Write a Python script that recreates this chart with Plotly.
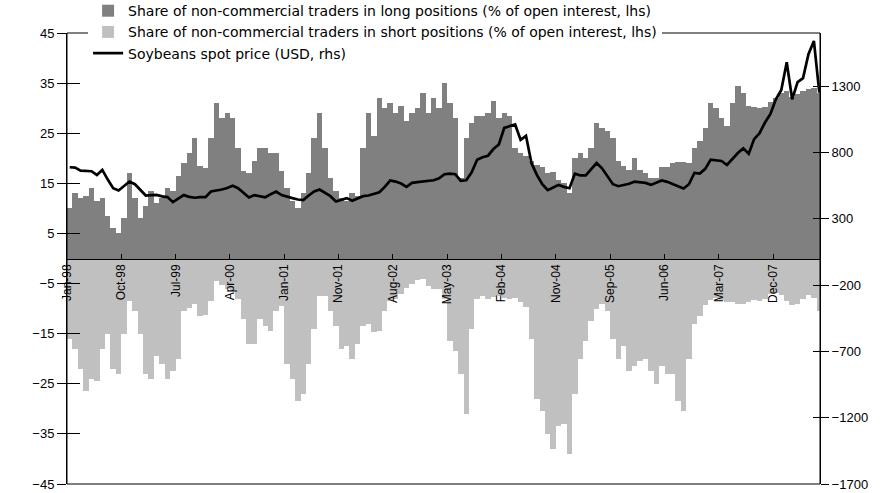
import plotly.graph_objects as go
import pandas as pd

# ---- Data (4-week periods starting 6 Jan 1998) ----
long_share = [
    10, 13, 12, 12.5, 14, 11.5, 12, 8.5, 6, 5,
    8, 17, 12, 8, 10.5, 13.5, 11, 12, 14, 13.5,
    16.5, 19, 21, 24, 18.5, 18, 24, 31, 28, 29,
    28, 22, 17.5, 17, 19.5,
    22, 22, 21, 21, 17.5,
    14, 11.5, 10, 13, 17, 24, 29, 22, 16, 13.5,
    12, 11.5, 13, 12.5, 22, 29, 24.5, 32, 30, 31,
    29, 30.5, 27.5, 29, 30, 33, 29, 32, 30,
    35,
    31, 28, 16, 24, 27, 28.5, 28.5, 29, 31.5, 28,
    29, 28.5, 22, 21, 20.5, 19.5, 18.6, 18.3, 17, 17.3,
    15.6, 15, 13, 20, 21, 20, 22, 27, 26, 25.5,
    24, 19.5, 18.5, 17.6, 20,
    17.6, 17, 16, 16, 18.3,
    18.3, 19, 19.3, 19.3, 19, 22, 23.5, 26, 31, 30,
    28, 26.5, 31, 34.5, 33, 30.5, 30.3, 30, 30.3, 31.3,
    32, 33, 33.5, 32.3, 32.8, 33.4, 33.8, 34, 33,
]

short_share = [
    -16, -18, -22, -26.5, -24, -24.5, -18, -15, -22, -23,
    -15, -8.5, -10.5, -15, -23, -24, -19.5, -21, -24, -22.5,
    -20, -10.5, -9.8, -9, -11.5, -11.2, -8.5, -4.5, -5.3, -6.1,
    -6.5, -8, -12, -17, -17, -12, -13.5, -14.5, -10.5, -9.5,
    -21, -24, -28.5, -27, -21, -14, -7.5, -7.5, -10.5, -13.5,
    -18, -17.5, -20, -17, -13.5, -13, -14.7, -14.5, -10.5, -8.5,
    -8, -7, -5.8, -5, -4.3, -4.1, -5.5, -6, -6.1,
    -8,
    -16.5, -18.5, -23, -31, -14, -8, -7.4, -8, -7.7, -7.5,
    -7.8, -8, -7.8, -8.7, -9.6, -16, -28, -30.5, -35, -38,
    -33.5, -33, -39, -27, -20, -16.5, -12.5, -10, -9.1, -10.5,
    -16, -20, -17.5, -22.5, -21.5, -20.5, -20, -22.5, -25, -21.5,
    -23, -23, -28.5, -30.5, -20, -13, -11.5, -9.2, -8.2, -7.8,
    -8.2, -8.7, -8.7, -9, -9, -8.6, -8.2, -8.5, -8, -7,
    -6.8, -7.3, -8.5, -9.2, -9, -8, -7.2, -7.8, -10.5,
]

price = [
    688, 685, 662, 660, 658, 630, 668, 595, 530, 513,
    545, 580, 560, 520, 475, 478, 480, 468, 463, 425,
    455, 478, 465, 458, 462, 462, 505, 512, 520, 532,
    548, 530, 495, 460, 478,
    468, 462, 485, 505, 478,
    465, 455, 445, 440, 475, 505, 520, 498, 470, 430,
    445, 455, 435, 450, 470, 475, 485, 500, 540, 588,
    580, 565, 540, 570, 576, 582, 588, 590, 605,
    635,
    640, 635, 585, 590, 650, 745, 764, 775, 825, 860,
    985, 1000, 1010, 895, 925, 720, 630, 560, 515, 535,
    555, 540, 530, 640, 626, 626, 670, 720, 680, 620,
    560, 545, 555, 563, 580,
    576, 570, 555, 570, 588,
    578, 560, 540, 528, 560, 645, 640, 676, 745, 740,
    735, 705, 750, 795, 830, 790, 900, 945, 1025, 1090,
    1200, 1270, 1480, 1200, 1330, 1360, 1540, 1640, 1250,
]

tick_labels = ["Jan-98", "Oct-98", "Jul-99", "Apr-00", "Jan-01", "Nov-01", "Aug-02",
               "May-03", "Feb-04", "Nov-04", "Sep-05", "Jun-06", "Mar-07", "Dec-07"]
left_ticks = [45, 35, 25, 15, 5, -5, -15, -25, -35, -45]
right_ticks = [1300, 800, 300, -200, -700, -1200, -1700]

names = [
    "Share of non-commercial traders in long positions (% of open interest, lhs)",
    "Share of non-commercial traders in short positions (% of open interest, lhs)",
    "Soybeans spot price (USD, rhs)",
]

# ---- Build ----
start = pd.Timestamp("1998-01-06")
n = len(long_share)
dates = [start + pd.Timedelta(weeks=4 * i + 2) for i in range(n)]
tick_dates = [start + pd.Timedelta(weeks=40 * k) for k in range(len(tick_labels))]
x_end = start + pd.Timedelta(weeks=554.5)
bar_w = 4 * 7 * 86400000

FONT = "Liberation Sans, Arial, sans-serif"
LEG_FONT = "DejaVu Sans, Liberation Sans, sans-serif"

fig = go.Figure()
fig.add_trace(go.Bar(x=dates, y=long_share, name=names[0], width=bar_w,
                     marker=dict(color="#808080", line=dict(width=0))))
fig.add_trace(go.Bar(x=dates, y=short_share, name=names[1], width=bar_w,
                     marker=dict(color="#c0c0c0", line=dict(width=0))))
fig.add_trace(go.Scatter(x=dates, y=price, name=names[2], mode="lines", yaxis="y2",
                         line=dict(color="black", width=2.7)))
# empty helper traces so the inner tick axes are rendered
fig.add_trace(go.Scatter(x=[dates[0]], y=[None], yaxis="y3", showlegend=False,
                         hoverinfo="skip", mode="lines"))
fig.add_trace(go.Scatter(x=[dates[0]], y=[None], yaxis="y4", showlegend=False,
                         hoverinfo="skip", mode="lines"))

fig.update_layout(
    width=887, height=493,
    margin=dict(l=67, r=67, t=33, b=9, autoexpand=False),
    paper_bgcolor="white", plot_bgcolor="white",
    font=dict(family=FONT, color="black"),
    barmode="overlay", bargap=0,
    showlegend=True,
    legend=dict(x=0.028, y=1.084, xanchor="left", yanchor="top",
                bgcolor="white", font=dict(size=14, family=LEG_FONT),
                traceorder="normal"),
    xaxis=dict(type="date", range=[start, x_end], tickmode="array",
               tickvals=tick_dates, ticktext=tick_labels, tickangle=-90,
               ticks="inside", ticklen=5, tickcolor="black",
               showline=True, linecolor="black", linewidth=1,
               anchor="free", position=0.5, showgrid=False, zeroline=False,
               tickfont=dict(size=12)),
    yaxis=dict(range=[-45, 45], tickmode="array", tickvals=left_ticks,
               ticks="outside", ticklen=9, tickcolor="black",
               showline=True, linecolor="black", showgrid=False, zeroline=False,
               tickfont=dict(size=13)),
    yaxis2=dict(range=[-1700, 1700], overlaying="y", side="right", tickmode="array",
                tickvals=right_ticks, ticks="outside", ticklen=8, tickcolor="black",
                showline=True, linecolor="black", showgrid=False, zeroline=False,
                tickfont=dict(size=13)),
    yaxis3=dict(range=[-45, 45], overlaying="y", side="left", tickmode="array",
                tickvals=left_ticks, ticks="inside", ticklen=13, tickcolor="black",
                showticklabels=False, showline=False, showgrid=False, zeroline=False),
    yaxis4=dict(range=[-1700, 1700], overlaying="y", side="right", tickmode="array",
                tickvals=right_ticks, ticks="inside", ticklen=7, tickcolor="black",
                showticklabels=False, showline=False, showgrid=False, zeroline=False),
    shapes=[dict(type="rect", xref="paper", yref="paper", x0=0, x1=1, y0=0, y1=1,
                 line=dict(color="black", width=1), layer="above")],
)

fig.write_html("out.html", config={"displayModeBar": False},
               post_script="document.body.style.margin='0';document.body.style.overflow='hidden';")
